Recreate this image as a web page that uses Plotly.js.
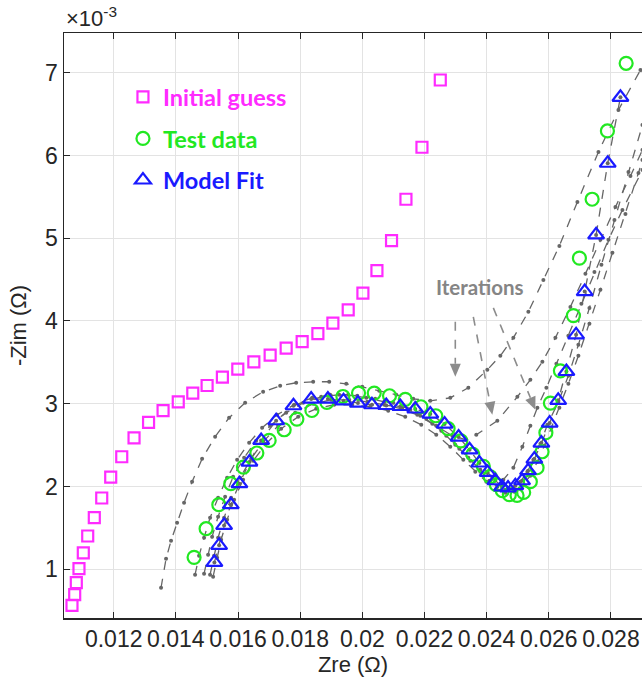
<!DOCTYPE html>
<html>
<head>
<meta charset="utf-8">
<script src="https://cdn.plot.ly/plotly-3.0.1.min.js"></script>
<style>html,body{margin:0;padding:0;background:#fff}#chart{width:642px;height:682px}</style>
</head>
<body>
<div id="chart"></div>
<script>
// ---- Data (Zre in Ω, -Zim in units of 1e-3 Ω) ----
const initZre = [0.010657,0.010744,0.010796,0.010882,0.011021,0.011163,0.011375,0.011614,0.011903,0.012258,0.012654,0.013121,0.013588,0.014077,0.014544,0.015005,0.015497,0.015993,0.016509,0.017034,0.017549,0.018064,0.018570,0.019053,0.019546,0.020019,0.020470,0.020940,0.021404,0.021919,0.022509];
const initZim = [0.563,0.692,0.837,1.006,1.196,1.401,1.622,1.860,2.113,2.359,2.588,2.775,2.917,3.021,3.128,3.220,3.321,3.418,3.506,3.587,3.671,3.751,3.848,3.973,4.134,4.336,4.609,4.971,5.471,6.099,6.912];

const testZre = [0.014586,0.014973,0.015382,0.015768,0.016174,0.016606,0.017002,0.017485,0.017894,0.018377,0.018860,0.019375,0.019878,0.020383,0.020876,0.021382,0.021887,0.022364,0.022760,0.023169,0.023556,0.023894,0.024119,0.024312,0.024506,0.024731,0.024979,0.025192,0.025407,0.025623,0.025784,0.025907,0.026052,0.026374,0.026792,0.026986,0.027395,0.027887,0.028490];
const testZim = [1.143,1.489,1.779,2.033,2.234,2.404,2.556,2.685,2.814,2.918,3.015,3.087,3.128,3.128,3.096,3.053,2.963,2.854,2.699,2.550,2.389,2.244,2.117,2.021,1.948,1.900,1.891,1.928,2.057,2.226,2.419,2.649,3.007,3.397,4.065,4.759,5.471,6.296,7.114];

const fitZre = [0.015240,0.015391,0.015552,0.015768,0.016045,0.016367,0.016744,0.017227,0.017784,0.018354,0.018892,0.019395,0.019858,0.020309,0.020770,0.021221,0.021704,0.022187,0.022647,0.023098,0.023452,0.023765,0.024032,0.024280,0.024496,0.024689,0.024924,0.025140,0.025333,0.025536,0.025762,0.026029,0.026303,0.026567,0.026879,0.027156,0.027523,0.027897,0.028306];
const fitZim = [1.082,1.288,1.529,1.779,2.033,2.295,2.556,2.794,2.975,3.056,3.056,3.035,3.007,2.987,2.978,2.966,2.936,2.875,2.754,2.597,2.443,2.283,2.169,2.069,1.993,1.981,2.009,2.069,2.190,2.331,2.524,2.766,3.041,3.389,3.832,4.355,5.040,5.906,6.703];

const iter1Zre = [0.013523,0.013684,0.013845,0.014039,0.014264,0.014522,0.014844,0.015263,0.015713,0.016229,0.016808,0.017356,0.017871,0.018419,0.018934,0.019482,0.019997,0.020544,0.021092,0.021639,0.022187,0.022831,0.023411,0.024023,0.024441,0.024860,0.025343,0.025826,0.026341,0.026921,0.027598,0.028242,0.028950];
const iter1Zim = [0.777,1.127,1.344,1.562,1.803,2.057,2.335,2.600,2.830,3.011,3.144,3.216,3.253,3.265,3.265,3.240,3.204,3.156,3.108,3.059,3.035,3.071,3.192,3.410,3.579,3.796,4.110,4.496,4.907,5.438,6.042,6.550,7.033];

const iter2Zre = [0.014618,0.014747,0.014908,0.015101,0.015359,0.015649,0.015971,0.016358,0.016776,0.017259,0.017807,0.018387,0.018966,0.019546,0.020126,0.020705,0.021285,0.021865,0.022380,0.022895,0.023346,0.023668,0.024345,0.024989,0.025407,0.025794,0.026213,0.026696,0.027179,0.027662,0.028145,0.028628,0.029015];
const iter2Zim = [0.934,1.163,1.381,1.622,1.864,2.105,2.323,2.528,2.709,2.866,2.987,3.071,3.108,3.108,3.071,3.023,2.951,2.854,2.733,2.612,2.564,2.625,2.794,3.083,3.289,3.506,3.796,4.170,4.569,4.980,5.378,5.752,6.066];

const iter3Zre = [0.014908,0.015037,0.015166,0.015359,0.015585,0.015842,0.016197,0.016583,0.017034,0.017549,0.018097,0.018676,0.019256,0.019836,0.020415,0.020995,0.021543,0.022058,0.022541,0.022992,0.023411,0.023797,0.024184,0.024538,0.024860,0.025150,0.025407,0.025633,0.025923,0.026245,0.026631,0.027050,0.027469,0.027920,0.028370,0.029015];
const iter3Zim = [0.946,1.175,1.393,1.634,1.876,2.117,2.347,2.552,2.733,2.890,3.011,3.083,3.108,3.096,3.059,3.011,2.926,2.818,2.673,2.504,2.347,2.202,2.105,2.081,2.226,2.480,2.733,2.951,3.192,3.482,3.820,4.207,4.593,4.980,5.342,5.825];

const iter4Zre = [0.015101,0.015230,0.015359,0.015552,0.015778,0.016068,0.016422,0.016808,0.017291,0.017839,0.018419,0.018998,0.019578,0.020158,0.020705,0.021253,0.021768,0.022251,0.022702,0.023121,0.023475,0.023797,0.024087,0.024345,0.024602,0.024860,0.025085,0.025311,0.025504,0.025730,0.025955,0.026309,0.026631,0.026953,0.027308,0.027694,0.028113,0.028564,0.029015];
const iter4Zim = [0.934,1.163,1.381,1.622,1.864,2.105,2.335,2.540,2.733,2.890,2.999,3.047,3.047,3.023,2.987,2.938,2.866,2.757,2.612,2.455,2.310,2.178,2.069,1.997,1.960,1.984,2.057,2.178,2.323,2.516,2.745,3.023,3.337,3.711,4.158,4.678,5.221,5.801,6.368];

const iter5Zre = [0.015198,0.015327,0.015456,0.015649,0.015874,0.016164,0.016486,0.016905,0.017388,0.017936,0.018515,0.019095,0.019675,0.020254,0.020834,0.021382,0.021897,0.022380,0.022831,0.023250,0.023636,0.023990,0.024312,0.024602,0.024892,0.025150,0.025407,0.025633,0.025858,0.026084,0.026341,0.026631,0.026953,0.027308,0.027662,0.028048,0.028467,0.028886,0.029015];
const iter5Zim = [0.910,1.139,1.356,1.598,1.840,2.081,2.310,2.516,2.697,2.842,2.938,2.987,2.987,2.963,2.914,2.842,2.745,2.625,2.480,2.323,2.178,2.057,1.972,1.924,1.936,2.009,2.129,2.298,2.492,2.709,2.951,3.240,3.579,3.965,4.376,4.823,5.294,5.789,5.946];

// "Iterations" call-out: dashed arrows, tail and tip in data units
const arrowTail = [[0.022992,3.989],[0.023572,4.050],[0.024216,4.158]];
const arrowTip  = [[0.022992,3.325],[0.024184,2.866],[0.025568,2.926]];
const labelPos = [0.023797, 4.41];

const xTicks = [0.012,0.014,0.016,0.018,0.020,0.022,0.024,0.026,0.028];
const xTickText = ['0.012','0.014','0.016','0.018','0.02','0.022','0.024','0.026','0.028'];
const yTicks = [1,2,3,4,5,6,7];

// ---- Layout geometry ----
const W = 642, H = 682, M = {l:64, r:0, t:33, b:64};
const xRange = [0.0104, 0.0290], yRange = [0.41, 7.48];
const pxX = (xRange[1]-xRange[0])/(W-M.l-M.r);   // data per px
const pxY = (yRange[1]-yRange[0])/(H-M.t-M.b);

// ---- Traces ----
const GRAY = '#666666';
const iterSets = [[iter1Zre,iter1Zim],[iter2Zre,iter2Zim],[iter3Zre,iter3Zim],[iter4Zre,iter4Zim],[iter5Zre,iter5Zim],[fitZre,fitZim]];
const traces = iterSets.map(function(s){
  return {x:s[0], y:s[1], type:'scatter', mode:'lines+markers', showlegend:false,
    line:{color:GRAY, width:1.3, dash:'dash'}, marker:{color:GRAY, size:4, symbol:'circle'}, hoverinfo:'skip'};
});
traces.push({x:initZre, y:initZim, type:'scatter', mode:'markers', name:'<b><span style="color:#ff2bff">Initial guess</span></b>', legendgroup:'a',
  marker:{symbol:'square-open', size:11, color:'#ff2bff', line:{width:2.2, color:'#ff2bff'}}});
traces.push({x:testZre, y:testZim, type:'scatter', mode:'markers', name:'<b><span style="color:#22e822">Test data</span></b>', legendgroup:'b',
  marker:{symbol:'circle-open', size:13, color:'#22e822', line:{width:2.2, color:'#22e822'}}});
traces.push({x:fitZre, y:fitZim, type:'scatter', mode:'markers', name:'<b><span style="color:#1a1aff">Model Fit</span></b>', legendgroup:'c',
  marker:{symbol:'triangle-up-open', size:14, color:'#1a1aff', line:{width:2.2, color:'#1a1aff'}}});

// dashed arrow shafts + filled heads
const ARROW = '#8c8c8c', HEAD_L = 13, HEAD_W = 5.5;
const shapes = [];
arrowTail.forEach(function(t,i){
  const h = arrowTip[i];
  let sx = (h[0]-t[0])/pxX, sy = -(h[1]-t[1])/pxY;
  const len = Math.hypot(sx, sy); sx /= len; sy /= len;
  const bx = -sx*HEAD_L, by = -sy*HEAD_L;
  const px = -sy*HEAD_W, py = sx*HEAD_W;
  const toD = function(ox, oy){ return [h[0] + ox*pxX, h[1] - oy*pxY]; };
  const base = toD(bx, by), c1 = toD(bx+px, by+py), c2 = toD(bx-px, by-py);
  shapes.push({type:'line', xref:'x', yref:'y', x0:t[0], y0:t[1], x1:base[0], y1:base[1],
    line:{color:ARROW, width:1.6, dash:'dash'}});
  shapes.push({type:'path', xref:'x', yref:'y',
    path:'M'+h[0]+','+h[1]+' L'+c1[0]+','+c1[1]+' L'+c2[0]+','+c2[1]+' Z',
    fillcolor:ARROW, line:{width:0}});
});

const annotations = [
  {x:labelPos[0], y:labelPos[1], xref:'x', yref:'y', text:'<b>Iterations</b>', showarrow:false,
    font:{family:'Lato, Open Sans, sans-serif', size:20.5, color:'#858585'}},
  {x:0, y:1, xref:'paper', yref:'paper', xanchor:'left', yanchor:'bottom', text:'×10<sup>-3</sup>', showarrow:false,
    font:{family:'Liberation Sans, Arial, sans-serif', size:22, color:'#262626'}}
];

const layout = {
  width:W, height:H, margin:M,
  paper_bgcolor:'#ffffff', plot_bgcolor:'#ffffff',
  font:{family:'Liberation Sans, Arial, sans-serif', size:20, color:'#262626'},
  showlegend:true,
  legend:{x:0.102, y:0.928, xanchor:'left', yanchor:'top', bgcolor:'rgba(0,0,0,0)',
    font:{family:'Lato, Open Sans, sans-serif', size:23.5}, tracegroupgap:8, itemsizing:'trace'},
  xaxis:{range:xRange, tickvals:xTicks, ticktext:xTickText, ticks:'inside', ticklen:6, tickcolor:'#262626',
    showline:true, linecolor:'#262626', linewidth:1.5, mirror:'ticks', showgrid:true, gridcolor:'#e3e3e3', gridwidth:1, zeroline:false,
    title:{text:'Zre (Ω)', font:{size:22}, standoff:2}, tickfont:{size:23}},
  yaxis:{range:yRange, tickvals:yTicks, ticks:'inside', ticklen:6, tickcolor:'#262626',
    showline:true, linecolor:'#262626', linewidth:1.5, showgrid:true, gridcolor:'#e3e3e3', gridwidth:1, zeroline:false,
    title:{text:'-Zim (Ω)', font:{size:22}, standoff:12}, tickfont:{size:23}},
  shapes:shapes,
  annotations:annotations
};
Plotly.newPlot('chart', traces, layout, {staticPlot:true, displayModeBar:false});
</script>
</body>
</html>
